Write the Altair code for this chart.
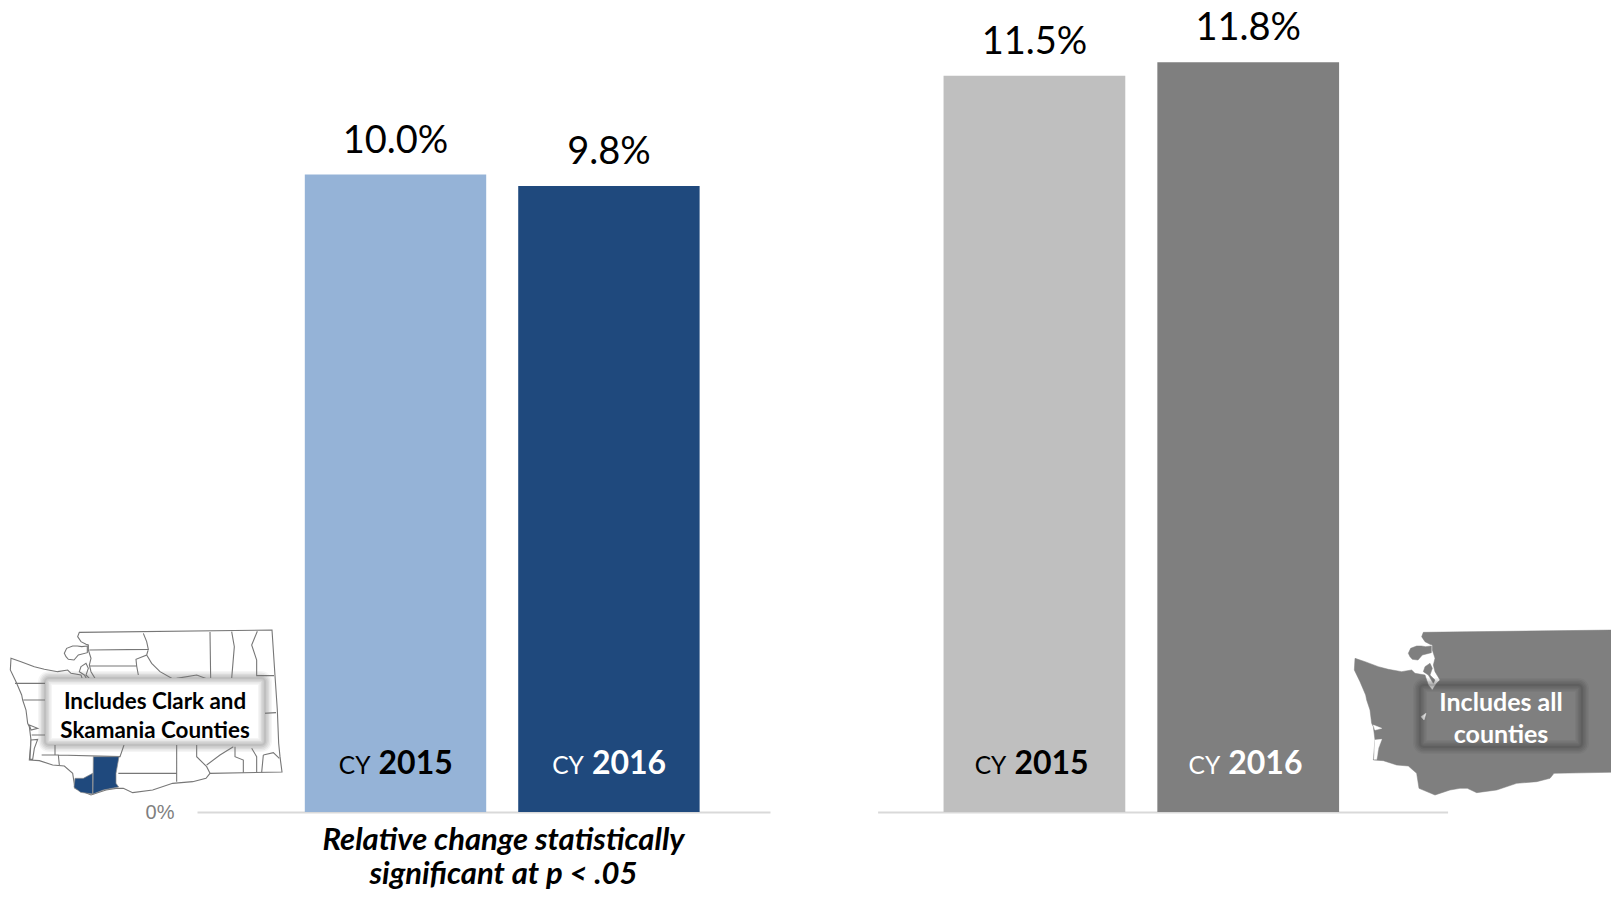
import altair as alt
import pandas as pd

years = ["2015", "2016"]
left_values = [10.0, 9.82]
right_values = [11.55, 11.76]
left_labels = ["10.0%", "9.8%"]
right_labels = ["11.5%", "11.8%"]
left_colors = ["#95b3d7", "#1f497d"]
right_colors = ["#bfbfbf", "#7f7f7f"]
left_text_colors = ["#000000", "#ffffff"]
right_text_colors = ["#000000", "#ffffff"]
caption = ["Relative change statistically", "significant at p < .05"]
left_note = "Includes Clark and\nSkamania Counties"
right_note = "Includes all\ncounties"

state_outline = [[238,67],[816,60],[825,197],[832,300],[836,400],[840,440],[846,486],[630,490],[618,505],[578,515],[518,520],[458,540],[398,548],[370,535],[348,535],[318,540],[273,555],[225,535],[218,490],[193,468],[158,465],[118,452],[88,450],[93,390],[88,350],[83,340],[78,300],[68,270],[65,255],[48,215],[31,180],[33,145],[63,155],[103,170],[133,178],[173,185],[203,180],[213,190],[243,195],[253,225],[265,240],[278,220],[288,210],[273,185],[268,165],[273,145],[265,120],[265,105],[258,103],[243,95],[233,80]]
islands = [
    [[193,130],[200,115],[218,108],[232,108],[245,110],[262,108],[262,128],[235,135],[222,150],[205,148],[198,140]],
    [[243,170],[258,160],[265,175],[258,195],[273,210],[268,220],[253,195],[238,185]],
]
estuaries = [
    [[88,345],[113,355],[93,360]],
    [[93,390],[113,388],[103,415],[98,448],[90,448]],
]
clark = [[278,490],[278,552],[242,547],[222,532],[225,505],[250,505]]
skamania = [[280,440],[357,440],[348,490],[348,520],[356,531],[310,540],[279,552]]
county_lines = [
    [[268,120],[445,118],[440,95],[430,70]],
    [[270,168],[410,168],[415,195]],
    [[410,168],[408,148],[440,135],[445,118]],
    [[440,135],[455,160],[480,185],[515,205]],
    [[630,66],[632,205]],
    [[695,65],[703,110],[695,205]],
    [[772,64],[755,105],[770,150],[770,197],[822,197]],
    [[530,205],[590,195],[630,210]],
    [[45,220],[135,220]],
    [[70,270],[135,270]],
    [[95,375],[135,375]],
    [[125,435],[175,435],[178,465]],
    [[165,405],[165,435]],
    [[175,435],[360,440],[372,405]],
    [[355,490],[530,490]],
    [[530,405],[530,515]],
    [[590,405],[590,440],[620,470],[630,490]],
    [[620,465],[660,435],[700,410]],
    [[705,410],[705,440],[730,450],[730,488]],
    [[755,415],[770,440],[770,487]],
    [[790,435],[785,487]],
    [[790,435],[820,428],[838,445]],
    [[828,308],[790,310],[790,400]],
]
hood_canal = [[231,320],[246,310],[240,330]]
right_map_shift = 4032

Y_DOMAIN = [0, 12.612]
y_scale = alt.Scale(domain=Y_DOMAIN)
FONT = "Lato"
GRAY_AXIS = "#d9d9d9"

y_axis = alt.Axis(values=[0], labelExpr="'0%'", domain=False, ticks=False, grid=False, title=None,
                  labelFont="Liberation Sans", labelFontSize=20, labelColor="#7f7f7f",
                  labelBaseline="middle", offset=-166, labelPadding=0)


def panel(values, labels, colors, text_colors, x_range, outer, align, axis, shift):
    df = pd.DataFrame({"year": years, "value": values, "label": labels,
                       "color": colors, "tc": text_colors, "cy": ["CY"] * 2})
    scale = alt.Scale(type="band", domain=years, range=x_range, paddingInner=0.15,
                      paddingOuter=outer, align=align)
    x_bar = alt.X("year:N", axis=axis, scale=scale)
    x_txt = alt.X("year:N", axis=None, scale=scale)
    y = alt.Y("value:Q", scale=y_scale, axis=y_axis)
    bars = alt.Chart(df).mark_bar().encode(
        x=x_bar, y=y, color=alt.Color("color:N", scale=None, legend=None))
    base = alt.Chart(df).encode(x=x_txt)
    vals = base.mark_text(font=FONT, fontSize=38, baseline="bottom", dy=-14, color="#000000").encode(
        y=y, text="label:N")
    cy = base.mark_text(font=FONT, fontSize=24.5, align="right", dx=shift - 3, baseline="alphabetic").encode(
        y=alt.value(766), text="cy:N", color=alt.Color("tc:N", scale=None, legend=None))
    yr = base.mark_text(font=FONT, fontSize=32, fontWeight="bold", align="left", dx=shift + 5, baseline="alphabetic").encode(
        y=alt.value(766), text="year:N", color=alt.Color("tc:N", scale=None, legend=None))
    return [bars, vals, cy, yr]


left_axis = alt.Axis(labels=False, ticks=False, grid=False, orient="bottom", domainColor=GRAY_AXIS, domainWidth=2,
                     title=caption, titleFont=FONT, titleFontSize=31, titleFontStyle="italic",
                     titleFontWeight="bold", titleColor="#000000", titleX=495, titleY=28,
                     titleLineHeight=34.2, titleBaseline="middle", titleAlign="center")
right_axis = alt.Axis(labels=False, ticks=False, grid=False, orient="bottom", domainColor=GRAY_AXIS, domainWidth=2, title=None)

left = panel(left_values, left_labels, left_colors, left_text_colors, [189, 762], 0.4175, 0.605, left_axis, -22)
right = panel(right_values, right_labels, right_colors, right_text_colors, [869.6, 1439.6], 0.408, 0.378, right_axis, -25)


def feature(geometry):
    return {"type": "Feature", "geometry": geometry, "properties": {}}


def poly(coords, shift=0):
    ring = [[c[0] + shift, c[1]] for c in coords]
    return {"type": "Polygon", "coordinates": [ring + [ring[0]]]}


PROJ = dict(type="identity", scale=1 / 3, translate=[-8, 602])

l_base = alt.Chart(alt.Data(values=[feature(poly(state_outline))] + [feature(poly(i)) for i in islands] + [feature(poly(e)) for e in estuaries])).mark_geoshape(
    fill="#ffffff", stroke="#777777", strokeWidth=1.1).project(**PROJ)
l_lines = alt.Chart(alt.Data(values=[feature({"type": "MultiLineString", "coordinates": county_lines})])).mark_geoshape(
    filled=False, stroke="#777777", strokeWidth=1.1).project(**PROJ)
l_blue = alt.Chart(alt.Data(values=[feature(poly(clark)), feature(poly(skamania))])).mark_geoshape(
    fill="#1f497d", stroke="#8c8c8c", strokeWidth=0.7).project(**PROJ)
r_base = alt.Chart(alt.Data(values=[feature(poly(state_outline, right_map_shift))] + [feature(poly(i, right_map_shift)) for i in islands])).mark_geoshape(
    fill="#7f7f7f", stroke="#7f7f7f", strokeWidth=0.5).project(**PROJ)
r_water = alt.Chart(alt.Data(values=[feature(poly(e, right_map_shift)) for e in estuaries] + [feature(poly(hood_canal, right_map_shift))])).mark_geoshape(
    fill="#ffffff", stroke="#ffffff", strokeWidth=0.5).project(**PROJ)


def note_box(x0, x1, y0, y1, color, fill, text, text_color, size, lh, ty):
    d = alt.Chart(alt.Data(values=[{"note": text}]))
    out = []
    if fill:
        out.append(d.mark_rect(fill=fill, cornerRadius=3).encode(
            x=alt.value(x0), x2=alt.value(x1), y=alt.value(y0), y2=alt.value(y1)))
    for w, o in [(14, 0.08), (11, 0.1), (8, 0.12), (5, 0.14), (2, 0.16)]:
        out.append(d.mark_rect(fill=None, stroke=color, strokeWidth=w, strokeOpacity=o, cornerRadius=4).encode(
            x=alt.value(x0), x2=alt.value(x1), y=alt.value(y0), y2=alt.value(y1)))
    out.append(d.mark_text(font=FONT, fontWeight="bold", fontSize=size, color=text_color, lineBreak="\n",
                           lineHeight=lh, align="center", baseline="middle").encode(
        x=alt.value((x0 + x1) / 2), y=alt.value(ty), text="note:N"))
    return out


left_box = note_box(37, 257, 670, 737, "#7a7a7a", "#ffffff", left_note, "#000000", 22.4, 29, 693.5)
right_box = note_box(1412, 1574, 677, 739, "#3f3f3f", None, right_note, "#ffffff", 25, 32, 695)

layers = [l_base, l_lines, l_blue, r_base, r_water] + left_box + right_box + left + right

chart = alt.layer(*layers).resolve_scale(x="independent", color="independent").properties(
    width=1603, height=804, padding={"left": 0, "top": 0, "right": 0, "bottom": 80},
    autosize=alt.AutoSizeParams(type="none"),
).configure_view(stroke=None)

chart.save("out.html", embed_options={"renderer": "svg", "actions": False})
